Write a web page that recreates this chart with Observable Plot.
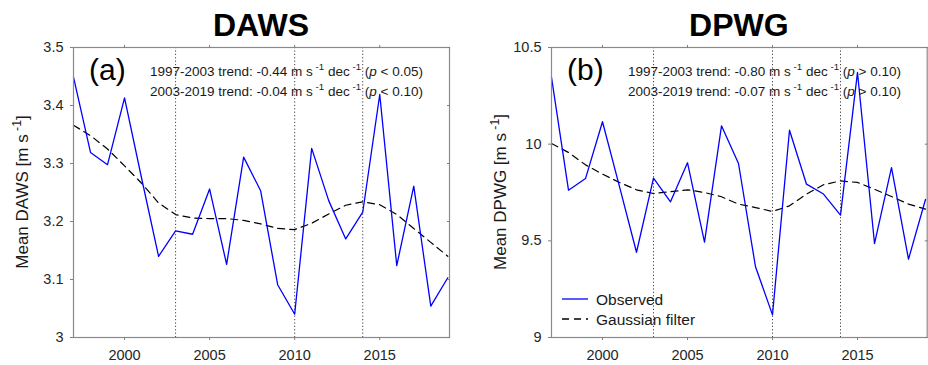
<!DOCTYPE html>
<html><head><meta charset="utf-8">
<script src="https://cdn.jsdelivr.net/npm/d3@7"></script>
<script src="https://cdn.jsdelivr.net/npm/@observablehq/plot@0.6"></script>
<style>
body{margin:0;background:#fff;}
#wrap{position:relative;width:928px;height:365px;overflow:hidden;background:#fff;}
#wrap svg{position:absolute;top:0;}
</style></head><body><div id="wrap"></div>
<script>
const years = [1997,1998,1999,2000,2001,2002,2003,2004,2005,2006,2007,2008,2009,2010,2011,2012,2013,2014,2015,2016,2017,2018,2019];
const dawsObserved = [3.449,3.319,3.298,3.413,3.275,3.140,3.184,3.178,3.256,3.126,3.311,3.253,3.091,3.040,3.326,3.236,3.170,3.216,3.419,3.124,3.261,3.054,3.103];
const dawsGaussian = [3.366,3.348,3.325,3.296,3.266,3.232,3.212,3.206,3.205,3.205,3.202,3.196,3.188,3.186,3.197,3.213,3.228,3.234,3.229,3.212,3.188,3.164,3.140];
const dpwgObserved = [10.345,9.762,9.822,10.116,9.78,9.441,9.824,9.702,9.904,9.493,10.095,9.900,9.366,9.117,10.072,9.793,9.742,9.633,10.371,9.486,9.879,9.405,9.714];
const dpwgGaussian = [10.003,9.957,9.893,9.845,9.802,9.764,9.745,9.754,9.764,9.750,9.728,9.690,9.672,9.652,9.681,9.742,9.790,9.810,9.802,9.767,9.729,9.690,9.664];
const breakYears = [2003, 2010, 2014];
const xTicks = [2000, 2005, 2010, 2015];
const dawsTicks = [3, 3.1, 3.2, 3.3, 3.4, 3.5];
const dpwgTicks = [9, 9.5, 10, 10.5];

const FONT = "'Liberation Sans', Arial, Helvetica, sans-serif";
const W = 464, H = 365, MT = 47, MB = 28;

function rich(g, x, y, parts, {size = 13, anchor = "start", rotate = 0, weight = "normal", fill = "#1a1a1a"} = {}) {
  const t = g.append("text")
    .attr("transform", `translate(${x},${y}) rotate(${rotate})`)
    .attr("text-anchor", anchor).attr("font-size", size).attr("font-weight", weight)
    .attr("font-family", FONT).attr("fill", fill);
  let shifted = 0;
  for (const p of parts) {
    const span = t.append("tspan");
    const isSup = typeof p !== "string" && p.sup != null;
    const target = isSup ? -size * 0.42 : 0;
    if (target !== shifted) { span.attr("dy", target - shifted); shifted = target; }
    if (isSup) span.attr("font-size", size * 0.72).attr("dx", size * 0.2).text(p.sup);
    else if (typeof p !== "string" && p.it != null) span.attr("font-style", "italic").text(p.it);
    else span.text(p);
  }
  return t;
}

function panel({obs, gauss, yDomain, yTicks, marginLeft, marginRight, title, letter, trend1, trend2, yName, legend, left}) {
  const rows = years.map((yr, i) => ({year: yr, obs: obs[i], gauss: gauss[i]}));
  const blank = () => "";
  const chart = Plot.plot({
    width: W, height: H, marginTop: MT, marginBottom: MB, marginLeft, marginRight,
    style: {fontFamily: FONT, fontSize: "14.5px", color: "#262626", background: "transparent", overflow: "visible"},
    x: {domain: [1997, 2019.1]},
    y: {domain: yDomain},
    marks: [
      Plot.ruleX(breakYears, {stroke: "#404040", strokeDasharray: "1.2,2.2", strokeWidth: 1}),
      Plot.line(rows, {x: "year", y: "gauss", stroke: "#000", strokeWidth: 1.2, strokeDasharray: "7,5"}),
      Plot.line(rows, {x: "year", y: "obs", stroke: "#0000ff", strokeWidth: 1.3}),
      Plot.frame({stroke: "#8a8a8a", strokeWidth: 1.2}),
      Plot.axisX(xTicks, {anchor: "bottom", tickSize: 3, tickPadding: 9, tickFormat: "d", stroke: "#808080", fill: "#262626", label: null}),
      Plot.axisX(xTicks, {anchor: "top", tickSize: 3, tickFormat: blank, stroke: "#808080", label: null, ariaLabel: "top-ticks"}),
      Plot.axisY(yTicks, {anchor: "left", tickSize: 3, tickPadding: 7, tickFormat: d => String(d), stroke: "#808080", fill: "#262626", label: null}),
      Plot.axisY(yTicks, {anchor: "right", tickSize: -3, tickFormat: blank, stroke: "#808080", label: null, ariaLabel: "right-ticks"})
    ]
  });
  chart.style.left = left + "px";
  const svg = d3.select(chart);
  svg.selectAll("text").filter(function() { return this.textContent === ""; }).remove();
  const x0 = marginLeft, x1 = W - marginRight, y0 = MT, y1 = H - MB;
  const g = svg.append("g");
  rich(g, (x0 + x1) / 2, 36, [title], {size: 32, anchor: "middle", weight: "bold", fill: "#000"});
  rich(g, x0 + 16, y0 + 33, [letter], {size: 30, fill: "#000"});
  rich(g, x0 + 77, 76, trend1, {size: 13.5});
  rich(g, x0 + 77, 96, trend2, {size: 13.5});
  rich(g, yName.x, (y0 + y1) / 2, ["Mean " + yName.name + " [m s", {sup: "-1"}, "]"], {size: 17, anchor: "middle", rotate: -90});
  if (legend) {
    const lx = x0 + 11, items = [["Observed", "#0000ff", null, y1 - 38], ["Gaussian filter", "#000", "7,5", y1 - 18]];
    for (const [name, col, dash, ly] of items) {
      g.append("line").attr("x1", lx).attr("x2", lx + 26).attr("y1", ly).attr("y2", ly)
        .attr("stroke", col).attr("stroke-width", 1.3).attr("stroke-dasharray", dash);
      rich(g, lx + 34, ly + 5.5, [name], {size: 15.5});
    }
  }
  return chart;
}

const wrap = document.getElementById("wrap");
wrap.appendChild(panel({
  obs: dawsObserved, gauss: dawsGaussian, yDomain: [3, 3.5], yTicks: dawsTicks,
  marginLeft: 73, marginRight: 15, title: "DAWS", letter: "(a)", left: 0,
  trend1: ["1997-2003 trend: -0.44 m s", {sup: "-1"}, " dec", {sup: "-1"}, " (", {it: "p"}, " < 0.05)"],
  trend2: ["2003-2019 trend: -0.04 m s", {sup: "-1"}, " dec", {sup: "-1"}, " (", {it: "p"}, " < 0.10)"],
  yName: {name: "DAWS", x: 28}, legend: false
}));
wrap.appendChild(panel({
  obs: dpwgObserved, gauss: dpwgGaussian, yDomain: [9, 10.5], yTicks: dpwgTicks,
  marginLeft: 87, marginRight: 1.3, title: "DPWG", letter: "(b)", left: 464,
  trend1: ["1997-2003 trend: -0.80 m s", {sup: "-1"}, " dec", {sup: "-1"}, " (", {it: "p"}, " > 0.10)"],
  trend2: ["2003-2019 trend: -0.07 m s", {sup: "-1"}, " dec", {sup: "-1"}, " (", {it: "p"}, " > 0.10)"],
  yName: {name: "DPWG", x: 42}, legend: true
}));
</script></body></html>
